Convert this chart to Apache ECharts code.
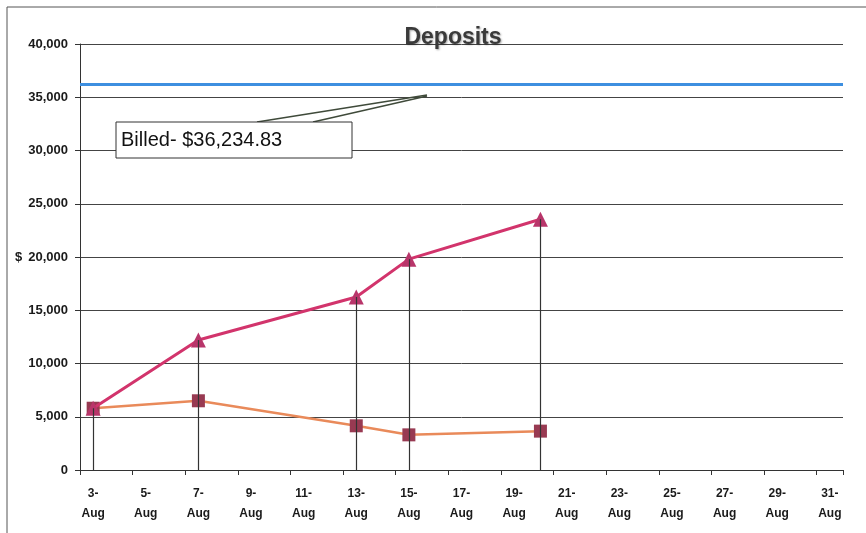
<!DOCTYPE html>
<html>
<head>
<meta charset="utf-8">
<script src="https://cdn.jsdelivr.net/npm/echarts@6/dist/echarts.min.js"></script>
<style>
  html, body { margin: 0; padding: 0; background: #fff; }
  #chart { width: 866px; height: 533px; }
</style>
</head>
<body>
<div id="chart"></div>
<script>
  // x axis days (one category per day)
  const days = ['3-Aug', '4-Aug', '5-Aug', '6-Aug', '7-Aug', '8-Aug', '9-Aug', '10-Aug', '11-Aug', '12-Aug',
    '13-Aug', '14-Aug', '15-Aug', '16-Aug', '17-Aug', '18-Aug', '19-Aug', '20-Aug', '21-Aug', '22-Aug',
    '23-Aug', '24-Aug', '25-Aug', '26-Aug', '27-Aug', '28-Aug', '29-Aug', '30-Aug', '31-Aug']
  // days with deposits
  const depositDays = ['3-Aug', '7-Aug', '13-Aug', '15-Aug', '20-Aug']
  const cumulative = [5800, 12200, 16250, 19800, 23550]   // triangles
  const daily = [5800, 6500, 4150, 3300, 3650]            // squares
  const billed = 36234.83

  const chart = echarts.init(document.getElementById('chart'))

  // drop lines from each point down to the axis
  const dropLines = depositDays.map((d, i) => [
    { coord: [d, Math.max(cumulative[i], daily[i])] },
    { coord: [d, 0] }
  ])

  const option = {
    animation: false,
    title: {
      text: 'Deposits',
      left: 448,
      top: 21,
      textAlign: 'center',
      textStyle: {
        fontFamily: 'Liberation Sans, Arial',
        fontSize: 23,
        fontWeight: 'bold',
        color: '#3a3a3a',
        textShadowColor: 'rgba(0,0,0,0.35)',
        textShadowBlur: 2,
        textShadowOffsetX: 1,
        textShadowOffsetY: 1
      }
    },
    grid: { left: 80, right: 23, top: 44, bottom: 63 },
    xAxis: {
      type: 'category',
      data: days,
      boundaryGap: true,
      axisLine: { lineStyle: { color: '#333', width: 1 } },
      axisTick: { show: true, interval: 1, length: 5, lineStyle: { color: '#333' } },
      axisLabel: {
        interval: 1,
        margin: 14,
        fontFamily: 'Liberation Sans, Arial',
        fontSize: 12,
        fontWeight: 'bold',
        color: '#1a1a1a',
        lineHeight: 20,
        formatter: v => v.replace('-', '-\n')
      },
      splitLine: { show: false }
    },
    yAxis: {
      type: 'value',
      min: 0,
      max: 40000,
      interval: 5000,
      name: '$',
      nameLocation: 'middle',
      nameGap: 56,
      nameRotate: 0,
      nameTextStyle: { fontFamily: 'Liberation Sans, Arial', fontSize: 13, fontWeight: 'bold', color: '#1a1a1a' },
      axisLine: { show: true, lineStyle: { color: '#333', width: 1 } },
      axisTick: { show: true, length: 5, lineStyle: { color: '#333' } },
      axisLabel: {
        margin: 12,
        fontFamily: 'Liberation Sans, Arial',
        fontSize: 13,
        fontWeight: 'bold',
        color: '#1a1a1a',
        formatter: v => v.toLocaleString('en-US')
      },
      splitLine: { show: true, lineStyle: { color: '#444', width: 1 } }
    },
    series: [
      {
        name: 'Cumulative',
        type: 'line',
        data: depositDays.map((d, i) => [d, cumulative[i]]),
        symbol: 'triangle',
        symbolSize: 15,
        lineStyle: { color: '#d2346c', width: 3 },
        itemStyle: { color: '#b8356a' },
        z: 4,
        markLine: {
          silent: true,
          symbol: 'none',
          label: { show: false },
          lineStyle: { color: '#333', width: 1.2, type: 'solid' },
          data: dropLines
        }
      },
      {
        name: 'Daily',
        type: 'line',
        data: depositDays.map((d, i) => [d, daily[i]]),
        symbol: 'rect',
        symbolSize: 13,
        lineStyle: { color: '#e98a5a', width: 2.5 },
        itemStyle: { color: '#983a52' },
        z: 3
      },
      {
        name: 'Billed',
        type: 'line',
        data: [],
        markLine: {
          silent: true,
          symbol: 'none',
          label: { show: false },
          lineStyle: { color: '#3d8fe0', width: 3, type: 'solid' },
          data: [{ yAxis: billed }]
        }
      }
    ],
    graphic: [
      // left / top border of chart area
      { type: 'line', shape: { x1: 7, y1: 7, x2: 866, y2: 7 }, style: { stroke: '#555', lineWidth: 1 } },
      { type: 'line', shape: { x1: 7, y1: 7, x2: 7, y2: 533 }, style: { stroke: '#555', lineWidth: 1 } },
      // callout
      { type: 'line', shape: { x1: 257, y1: 122, x2: 427, y2: 95 }, style: { stroke: '#3f4a3a', lineWidth: 1.5 }, z: 10 },
      { type: 'line', shape: { x1: 313, y1: 122, x2: 427, y2: 96 }, style: { stroke: '#3f4a3a', lineWidth: 1.5 }, z: 10 },
      {
        type: 'rect',
        shape: { x: 116, y: 122, width: 236, height: 36 },
        style: { fill: '#fff', stroke: '#333', lineWidth: 1 },
        z: 11
      },
      {
        type: 'text',
        x: 121,
        y: 140,
        style: {
          text: 'Billed- $36,234.83',
          fontFamily: 'Liberation Sans, Arial',
          fontSize: 20,
          fill: '#111',
          verticalAlign: 'middle'
        },
        z: 12
      }
    ]
  }
  chart.setOption(option)
</script>
</body>
</html>
